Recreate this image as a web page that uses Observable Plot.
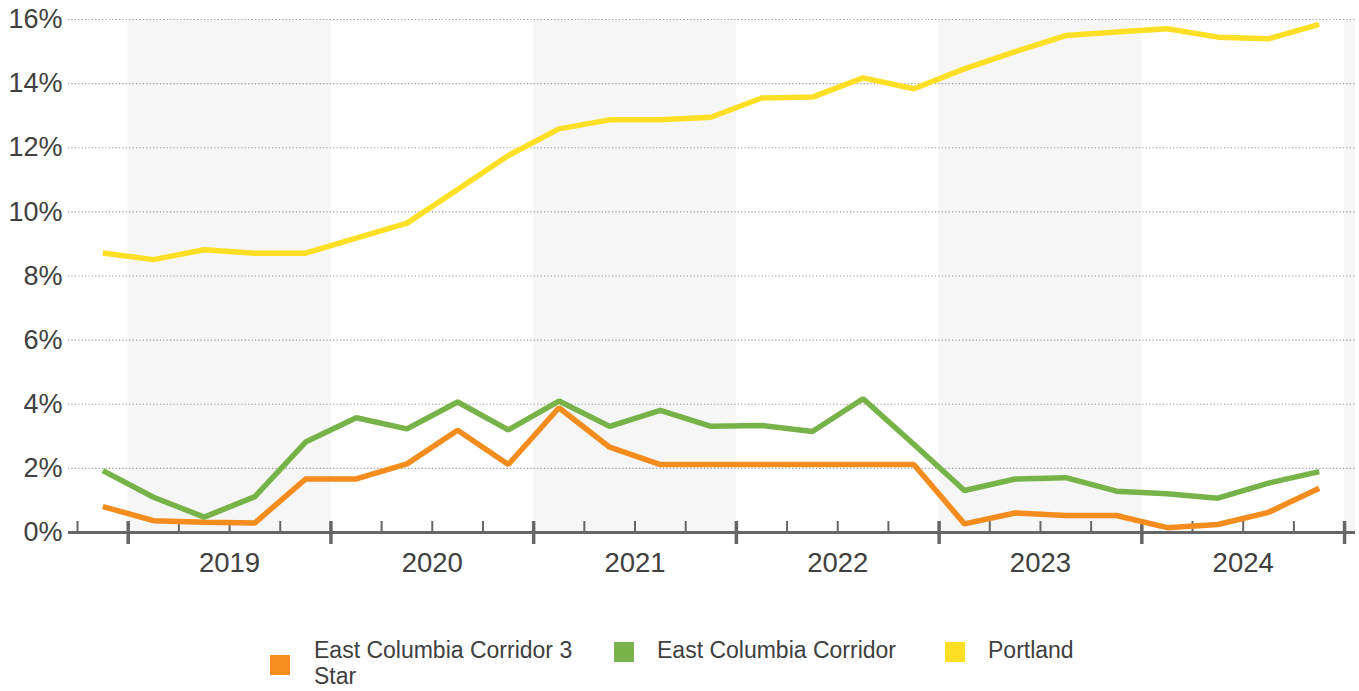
<!DOCTYPE html>
<html>
<head>
<meta charset="utf-8">
<script src="https://cdn.jsdelivr.net/npm/d3@7"></script>
<script src="https://cdn.jsdelivr.net/npm/@observablehq/plot@0.6"></script>
<style>
  body { margin: 0; background: #fff; font-family: "Liberation Sans", Arial, sans-serif; }
  #wrap { position: relative; width: 1359px; height: 691px; }
  .sw { position: absolute; width: 20px; height: 20px; }
  .lt { position: absolute; font-size: 23px; line-height: 26px; color: #404040; white-space: nowrap; }
</style>
</head>
<body>
<div id="wrap">
  <div id="chart"></div>
</div>
<script>
// ---- data ----
const quarters = ["2018 Q4","2019 Q1","2019 Q2","2019 Q3","2019 Q4","2020 Q1","2020 Q2","2020 Q3","2020 Q4",
  "2021 Q1","2021 Q2","2021 Q3","2021 Q4","2022 Q1","2022 Q2","2022 Q3","2022 Q4",
  "2023 Q1","2023 Q2","2023 Q3","2023 Q4","2024 Q1","2024 Q2","2024 Q3","2024 Q4"];
const star3 = [0.81, 0.37, 0.32, 0.30, 1.67, 1.67, 2.14, 3.19, 2.12, 3.89, 2.66, 2.12, 2.12,
  2.12, 2.12, 2.12, 2.12, 0.27, 0.61, 0.53, 0.53, 0.15, 0.25, 0.63, 1.38];
const corridor = [1.93, 1.10, 0.48, 1.12, 2.82, 3.58, 3.23, 4.07, 3.20, 4.10, 3.31, 3.81, 3.31,
  3.34, 3.15, 4.17, 2.75, 1.31, 1.67, 1.71, 1.29, 1.21, 1.07, 1.54, 1.90];
const portland = [8.72, 8.51, 8.82, 8.71, 8.71, 9.18, 9.65, 10.70, 11.76, 12.59, 12.87, 12.87, 12.95,
  13.55, 13.58, 14.18, 13.84, 14.46, 15.00, 15.50, 15.61, 15.71, 15.45, 15.40, 15.85];
const seriesNames = ["East Columbia Corridor 3 Star", "East Columbia Corridor", "Portland"];
const seriesColors = ["#f48c1e", "#77b348", "#fde026"];
const yearLabels = [2019, 2020, 2021, 2022, 2023, 2024];
const yearBoundaries = [2019, 2020, 2021, 2022, 2023, 2024, 2025];
const shadedYears = [2019, 2021, 2023, 2025];
const yTicks = [0, 2, 4, 6, 8, 10, 12, 14, 16];

// ---- build table ----
const qx = q => { const [y, qq] = q.split(" Q"); return +y + (+qq - 0.5) / 4; };
const rows = [];
[star3, corridor, portland].forEach((vals, si) => {
  vals.forEach((v, i) => rows.push({series: seriesNames[si], x: qx(quarters[i]), v}));
});
const quarterBounds = d3.range(2018.75, 2025.001, 0.25).filter(b => Math.abs(b - Math.round(b)) > 1e-6);

const textColor = "#404040";
const W = 1359, H = 600;
const chart = Plot.plot({
  width: W, height: H,
  marginLeft: 68, marginRight: 4, marginTop: 19, marginBottom: H - 532,
  style: {fontFamily: "'Liberation Sans', Arial, sans-serif", color: textColor, background: "transparent"},
  x: {type: "linear", domain: [2018.7055, 2025.054]},
  y: {domain: [0, 16]},
  color: {domain: seriesNames, range: seriesColors},
  marks: [
    Plot.rect(shadedYears, {x1: d => d, x2: d => d + 1, y1: 0, y2: 16, fill: "#f6f6f6", clip: true}),
    Plot.gridY(yTicks.filter(t => t > 0), {stroke: "#9a9a9a", strokeOpacity: 1, strokeWidth: 1.2, strokeDasharray: "1.2,2.2"}),
    Plot.axisY(yTicks, {label: null, tickSize: 0, tickPadding: 6, tickFormat: d => d + "%", fontSize: 27, fill: textColor}),
    Plot.axisX(yearLabels.map(y => y + 0.5), {label: null, tickSize: 0, tickPadding: 20, tickFormat: d => String(Math.floor(d)), fontSize: 27.5, fill: textColor}),
    Plot.ruleY([0], {stroke: "#666", strokeWidth: 3}),
    Plot.ruleX(quarterBounds, {x: d => d, y1: 0, y2: 0, insetTop: -11, insetBottom: 0, stroke: "#666", strokeWidth: 2}),
    Plot.ruleX(yearBoundaries, {x: d => d, y1: 0, y2: 0, insetTop: -11, insetBottom: -12, stroke: "#666", strokeWidth: 3.5}),
    Plot.line(rows, {x: "x", y: "v", z: "series", stroke: "series", strokeWidth: 5.5, strokeLinejoin: "miter", strokeLinecap: "butt"})
  ]
});
document.getElementById("chart").appendChild(chart);

// ---- legend ----
const wrap = document.getElementById("wrap");
const legendPos = [
  {sw: [270, 655], tx: [314, 637], maxW: 268},
  {sw: [614, 642], tx: [657, 637]},
  {sw: [945, 642], tx: [988, 637]}
];
seriesNames.forEach((name, i) => {
  const p = legendPos[i];
  const sw = document.createElement("div");
  sw.className = "sw";
  sw.style.left = p.sw[0] + "px"; sw.style.top = p.sw[1] + "px";
  sw.style.background = seriesColors[i];
  wrap.appendChild(sw);
  const t = document.createElement("div");
  t.className = "lt";
  t.style.left = p.tx[0] + "px"; t.style.top = p.tx[1] + "px";
  if (p.maxW) { t.style.whiteSpace = "normal"; t.style.width = p.maxW + "px"; }
  t.textContent = name;
  wrap.appendChild(t);
});
</script>
</body>
</html>
